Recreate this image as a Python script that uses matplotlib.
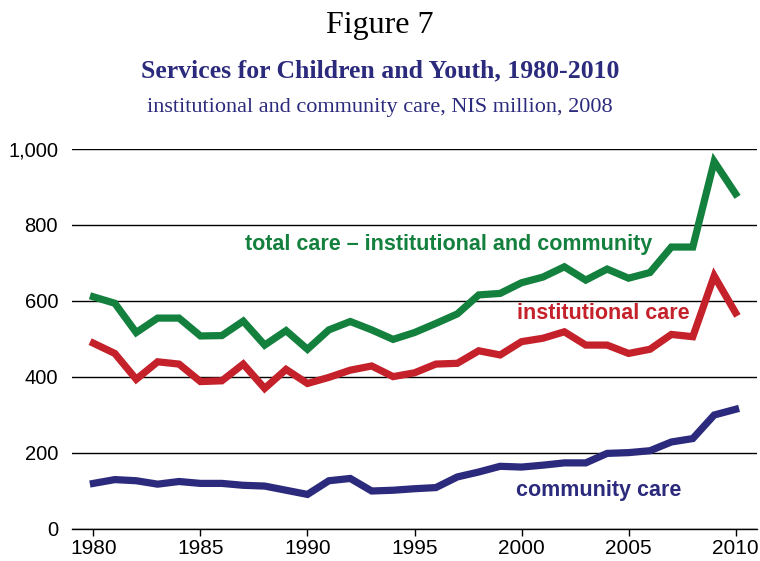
import numpy as np
import matplotlib.pyplot as plt
from matplotlib.ticker import FuncFormatter

# 연도별 아동·청소년 서비스 지출 (NIS million, 2008 가격)
years = list(range(1980, 2011))
total_care = [611, 594, 517, 555, 555, 508, 509, 547, 484, 522, 473,
              524, 546, 524, 499, 517, 541, 566, 616, 620, 648,
              663, 690, 655, 684, 660, 675, 742, 742, 967, 882]
institutional = [489, 462, 394, 440, 434, 388, 390, 434, 370, 420, 383,
                 399, 418, 429, 401, 411, 434, 436, 469, 458, 493,
                 502, 519, 484, 484, 462, 473, 512, 506, 666, 569]
community = [120, 130, 127, 118, 125, 120, 120, 115, 113, 102, 91,
             127, 133, 100, 102, 106, 109, 137, 150, 165, 163,
             168, 174, 174, 199, 201, 206, 229, 238, 300, 315]

x_ticks = [1980, 1985, 1990, 1995, 2000, 2005, 2010]
y_ticks = [0, 200, 400, 600, 800, 1000]

GREEN = '#13803d'
RED = '#c4212a'
NAVY = '#2b2a7c'

plt.rcParams['font.family'] = ['Liberation Sans', 'DejaVu Sans']

fig = plt.figure(figsize=(7.6, 5.61), dpi=100)
ax = fig.add_axes([72 / 760, 1 - 529 / 561, 685 / 760, 380 / 561])

ax.plot(years, total_care, color=GREEN, lw=5.2, solid_joinstyle='miter', zorder=3)
ax.plot(years, institutional, color=RED, lw=5.2, solid_joinstyle='miter', zorder=3)
ax.plot(years, community, color=NAVY, lw=5.2, solid_joinstyle='miter', zorder=3)

ax.set_xlim(1979.0, 2011.0)
ax.set_ylim(0, 1000)
ax.set_xticks(x_ticks)
ax.set_yticks(y_ticks)
ax.yaxis.set_major_formatter(FuncFormatter(lambda v, p: f'{int(v):,}'))
ax.grid(axis='y', color='black', lw=1.0, zorder=1)
ax.set_axisbelow(True)
for side in ['left', 'right', 'top']:
    ax.spines[side].set_visible(False)
ax.spines['bottom'].set_linewidth(1.0)
ax.tick_params(axis='x', length=5, width=1, labelsize=15, pad=2)
ax.tick_params(axis='y', length=0, labelsize=14.5, pad=10)

# 시리즈 이름표
ax.text(1987.1, 748, 'total care \u2013 institutional and community',
        color=GREEN, fontsize=15.5, fontweight='bold', va='center', ha='left')
ax.text(1999.8, 566, 'institutional care', color=RED, fontsize=15.5,
        fontweight='bold', va='center', ha='left')
ax.text(1999.75, 102, 'community care', color=NAVY, fontsize=15.5,
        fontweight='bold', va='center', ha='left')

# 제목
serif = ['Liberation Serif', 'DejaVu Serif']
fig.text(0.5, 1 - 33 / 561, 'Figure 7', ha='center', va='baseline',
         family=serif, fontsize=23, color='black')
fig.text(0.5, 1 - 77 / 561, 'Services for Children and Youth, 1980-2010', ha='center',
         va='baseline', family=serif, fontsize=18.5, fontweight='bold', color=NAVY)
fig.text(0.5, 1 - 112 / 561, 'institutional and community care, NIS million, 2008',
         ha='center', va='baseline', family=serif, fontsize=16, color=NAVY)

fig.savefig('out.png', dpi=100)
